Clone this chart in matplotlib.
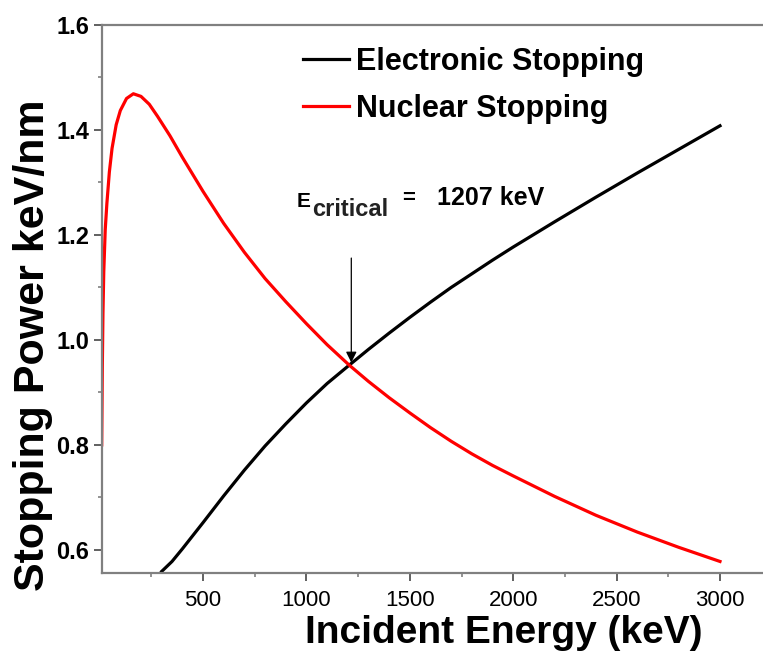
import matplotlib
matplotlib.use("Agg")
import matplotlib.pyplot as plt
from matplotlib.ticker import MultipleLocator, FormatStrFormatter

plt.rcParams['font.family'] = ['Liberation Sans', 'DejaVu Sans']

# values
nuc_energy = [10, 13, 16, 20, 27, 35, 47, 60, 80, 100, 130, 163, 200, 240, 280,
              340, 400, 500, 600, 700, 800, 900, 1000, 1100, 1207, 1300, 1400,
              1500, 1600, 1700, 1800, 1900, 2000, 2200, 2400, 2600, 2800, 3000]
nuc_power = [0.80, 0.95, 1.05, 1.13, 1.21, 1.26, 1.32, 1.365, 1.41, 1.437, 1.460,
             1.469, 1.464, 1.449, 1.426, 1.389, 1.348, 1.283, 1.222, 1.167, 1.117,
             1.073, 1.031, 0.991, 0.952, 0.921, 0.890, 0.861, 0.833, 0.807, 0.783,
             0.761, 0.741, 0.702, 0.666, 0.634, 0.605, 0.578]

elec_energy = [300, 350, 400, 500, 600, 700, 800, 900, 1000, 1100, 1207, 1300,
               1400, 1500, 1600, 1700, 1800, 1900, 2000, 2200, 2400, 2600, 2800, 3000]
elec_power = [0.559, 0.578, 0.602, 0.652, 0.703, 0.752, 0.798, 0.840, 0.880, 0.917,
              0.952, 0.982, 1.013, 1.043, 1.072, 1.100, 1.126, 1.152, 1.177, 1.225,
              1.272, 1.318, 1.363, 1.408]

e_critical = 1207

fig = plt.figure(figsize=(7.63, 6.51), dpi=100)
ax = fig.add_axes([0.1333, 0.1198, 0.8667, 0.8418])

ax.plot(elec_energy, elec_power, color='black', lw=2.3, label='Electronic Stopping')
ax.plot(nuc_energy, nuc_power, color='#ff0000', lw=2.3, label='Nuclear Stopping')

ax.set_xlim(10, 3208)
ax.set_ylim(0.556, 1.6)

ax.xaxis.set_major_locator(MultipleLocator(500))
ax.xaxis.set_minor_locator(MultipleLocator(250))
ax.yaxis.set_major_locator(MultipleLocator(0.2))
ax.yaxis.set_minor_locator(MultipleLocator(0.1))
ax.yaxis.set_major_formatter(FormatStrFormatter('%.1f'))

ax.spines['right'].set_visible(False)
for s in ['left', 'bottom', 'top']:
    ax.spines[s].set_color('#808080')
    ax.spines[s].set_linewidth(1.6)

ax.tick_params(which='major', direction='out', length=6, width=1.4, color='#606060')
ax.tick_params(which='minor', direction='out', length=3, width=1.2, color='#808080')
ax.tick_params(axis='x', labelsize=16, pad=6)
ax.tick_params(axis='y', labelsize=17, pad=3)
for lab in ax.get_yticklabels():
    lab.set_fontweight('bold')

ax.set_xlabel('Incident Energy (keV)', fontsize=28, fontweight='bold', va='baseline')
ax.xaxis.set_label_coords(0.608, -0.128)
ax.set_ylabel('Stopping Power keV/nm', fontsize=31, fontweight='bold', va='center')
ax.yaxis.set_label_coords(-0.104, 0.416)

fig.legend(loc='upper left', bbox_to_anchor=(0.397, 0.928), frameon=False,
           prop={'size': 22, 'weight': 'bold'}, borderpad=0, borderaxespad=0,
           handlelength=1.5, handletextpad=0.25, labelspacing=0.55)

ax.annotate('', xy=(e_critical + 10, 0.957), xytext=(e_critical + 10, 1.156),
            arrowprops=dict(arrowstyle='-|>', color='black', lw=0.9,
                            mutation_scale=16, shrinkA=0, shrinkB=0))
ax.text(955, 1.253, 'E', fontsize=15, fontweight='bold')
ax.text(1026, 1.236, 'critical', fontsize=17, fontweight='bold', color='#222222')
ax.text(1461, 1.270, '=', fontsize=16, fontweight='bold', va='center')
ax.text(1631, 1.257, f'{e_critical} keV', fontsize=18, fontweight='bold')

fig.savefig('out.png', dpi=100)
